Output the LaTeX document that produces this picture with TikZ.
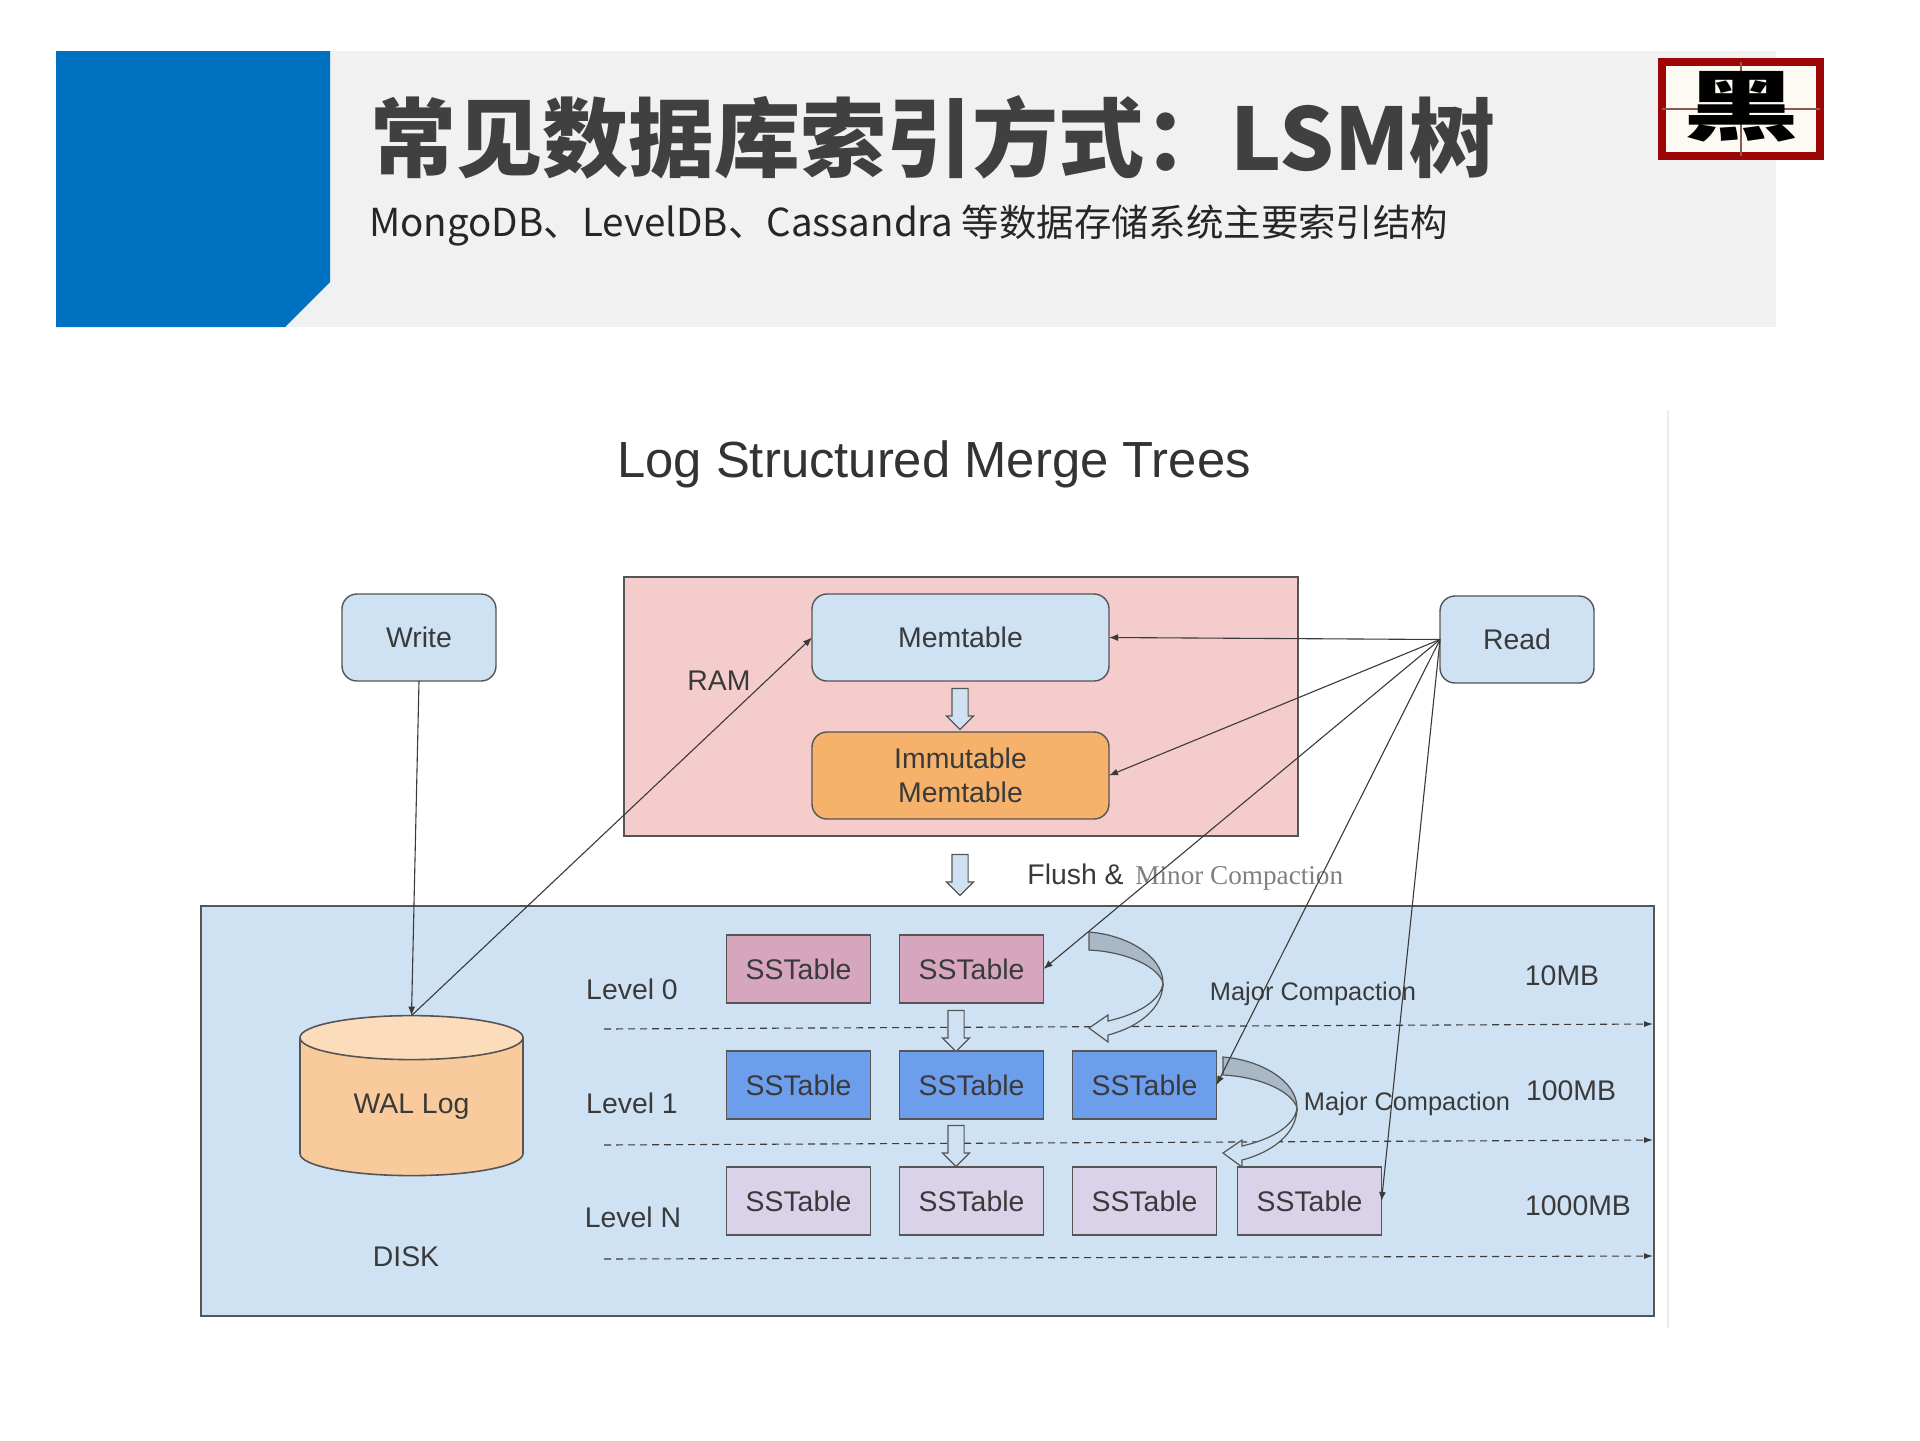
\documentclass[tikz,border=0pt]{standalone}
\usepackage{fontspec}
\usepackage{graphicx}
\setmainfont{Liberation Sans}
\newfontfamily\cjk{Noto Sans CJK SC}
\newfontfamily\minorfont{Liberation Serif}
\usepackage{xcolor}
\usetikzlibrary{arrows.meta, positioning, shapes.geometric, shapes.arrows}

\definecolor{headblue}{HTML}{0070C0}
\definecolor{headgray}{HTML}{F1F1F1}
\definecolor{headtext}{HTML}{404040}
\definecolor{stampred}{HTML}{9C0606}
\definecolor{stampbg}{HTML}{FCFAF2}
\definecolor{stampline}{HTML}{8A5A50}
\definecolor{inktext}{HTML}{3A3A3A}
\definecolor{edgegray}{HTML}{555555}
\definecolor{ramfill}{HTML}{F4CCCC}
\definecolor{memfill}{HTML}{CFE2F3}
\definecolor{immfill}{HTML}{F6B26B}
\definecolor{walfill}{HTML}{F9CB9C}
\definecolor{waltop}{HTML}{FBDDBB}
\definecolor{levelzero}{HTML}{D5A6BD}
\definecolor{levelone}{HTML}{6D9EEB}
\definecolor{leveln}{HTML}{D9D2E9}
\definecolor{curvegray}{HTML}{A9B8C6}

\tikzset{
    boxtext/.style={font=\fontsize{14.2pt}{17pt}\selectfont, text=inktext},
    roundbox/.style={boxtext, rounded corners=7.5pt, draw=edgegray, line width=0.7pt, fill=memfill, minimum height=43.5pt, outer sep=0pt, align=center},
    sstable/.style={boxtext, draw=edgegray, line width=0.7pt, minimum width=72pt, minimum height=34pt, outer sep=0pt},
    label/.style={boxtext},
    majorlabel/.style={font=\fontsize{12.7pt}{15pt}\selectfont, text=inktext},
    link/.style={draw=inktext, line width=0.55pt, -{Latex[length=4.5pt,width=3.5pt]}},
    levelline/.style={draw=inktext, line width=0.55pt, dash pattern=on 3.5pt off 2.5pt, -{Latex[length=4.5pt,width=3pt]}},
    hollowdown/.style={single arrow, draw=edgegray, fill=memfill, line width=0.6pt, rotate=-90, inner xsep=0pt, inner ysep=3.75pt,
        minimum height=20.5pt, single arrow head extend=2.75pt, single arrow tip angle=90, single arrow head indent=0pt},
    compaction/.pic={
        \filldraw[draw=edgegray, fill=curvegray, line width=0.6pt] (0,0) .. controls (38,3) and (74,24) .. (74,51)
            .. controls (70,36) and (40,20) .. (0,18) -- cycle;
        \filldraw[draw=edgegray, fill=memfill, line width=0.6pt] (74,51) .. controls (74,76) and (50,95) .. (19,103)
            -- (19,110) -- (0,96) -- (19,83) -- (19,89) .. controls (50,82) and (72,68) .. (74,51) -- cycle;
    }
}

\begin{document}
\begin{tikzpicture}[x=0.5pt, y=-0.5pt, node distance=24pt and 14.5pt]
    \useasboundingbox[fill=white] (0,0) rectangle (1920,1440);

    % header band
    \fill[headgray] (285,51) rectangle (1776,327);
    \fill[headblue] (56,51) -- (330,51) -- (330,282) -- (285,327) -- (56,327) -- cycle;
    \node[anchor=west, inner sep=0pt, text=headtext, font=\cjk\bfseries\fontsize{43pt}{50pt}\selectfont] (headline) at (370,137) {常见数据库索引方式：LSM树};
    \node[anchor=west, inner sep=0pt, text=black!85, font=\cjk\fontsize{18.7pt}{22pt}\selectfont] (subline) at (369,226) {{\fontsize{19.25pt}{22pt}\selectfont MongoDB、LevelDB、Cassandra} 等数据存储系统主要索引结构};

    % stamp
    \draw[draw=stampred, fill=stampbg, line width=4pt] (1662,62) rectangle (1820,156);
    \draw[stampline, line width=0.8pt] (1741,62) -- (1741,156) (1662,109) -- (1820,109);
    \node[inner sep=0pt, font=\cjk\bfseries\fontsize{58pt}{58pt}\selectfont] (stamp) at (1741,107) {\scalebox{1}[0.66]{黑}};

    % edge of the pasted figure
    \draw[black!8, line width=0.6pt] (1668,410) -- (1668,1328);

    \node[font=\fontsize{25.4pt}{30pt}\selectfont, text=black!80] (title) at (934,464) {Log Structured Merge Trees};

    % memory and disk areas
    \node[draw=edgegray, fill=ramfill, line width=0.7pt, minimum width=337pt, minimum height=129.5pt, outer sep=0pt] (ram) at (961,706.5) {};
    \node[draw=edgegray, fill=memfill, line width=0.9pt, minimum width=726.5pt, minimum height=205pt, outer sep=0pt] (disk) at (927.5,1111) {};

    \node[roundbox, minimum width=77pt] (write) at (419,637.5) {Write};
    \node[roundbox, minimum width=77pt] (read) at (1517,639.5) {Read};
    \node[roundbox, minimum width=148.5pt] (memtable) at (960.5,637.5) {Memtable};
    \node[roundbox, minimum width=148.5pt, fill=immfill] (immutable) at (960.5,775.5) {Immutable\\Memtable};
    \node[label] (ramlabel) at (719,681) {RAM};

    \node[hollowdown] (toimm) at (960,705) {};
    \node[hollowdown] (flush) at (960,871) {};
    \node[label, anchor=west, inner sep=0pt] (flushlabel) at (1027,874) {Flush \&};
    \node[anchor=west, inner sep=0pt, text=black!50, font=\minorfont\fontsize{13.6pt}{16pt}\selectfont] (minorlabel) at (1135,878) {Minor Compaction};

    % write-ahead log
    \node[cylinder, shape border rotate=90, draw=edgegray, line width=0.8pt, cylinder uses custom fill, cylinder body fill=walfill, cylinder end fill=waltop,
        shape aspect=0.38, minimum width=111.5pt, minimum height=80pt, outer sep=0pt, inner sep=0pt, boxtext] (wal) at (411.5,1107) {\raisebox{-2pt}{WAL Log}};
    \node[label] (disklabel) at (406,1257) {DISK};

    % levels
    \node[sstable, fill=levelzero] (sst00) at (798.5,969) {SSTable};
    \node[sstable, fill=levelzero, right=of sst00] (sst01) {SSTable};
    \node[sstable, fill=levelone, below=of sst00] (sst10) {SSTable};
    \node[sstable, fill=levelone, right=of sst10] (sst11) {SSTable};
    \node[sstable, fill=levelone, right=of sst11] (sst12) {SSTable};
    \node[sstable, fill=leveln, below=of sst10] (sst20) {SSTable};
    \node[sstable, fill=leveln, right=of sst20] (sst21) {SSTable};
    \node[sstable, fill=leveln, right=of sst21] (sst22) {SSTable};
    \node[sstable, fill=leveln, right=10.5pt of sst22] (sst23) {SSTable};

    \node[label] (level0) at (632,989) {Level 0};
    \node[label] (level1) at (632,1103) {Level 1};
    \node[label] (levelN) at (633,1217) {Level N};
    \node[label] (size0) at (1562,976) {10MB};
    \node[label] (size1) at (1571,1091) {100MB};
    \node[label] (size2) at (1578,1206) {1000MB};

    \foreach \name/\ya/\yb in {zero/1029/1024, one/1145/1140, two/1259/1256} {
        \coordinate (\name a) at (604,\ya);
        \coordinate (\name b) at (1653,\yb);
        \draw[levelline] (\name a) -- (\name b);
    }

    \node[hollowdown] (down0) at (956,1027) {};
    \node[hollowdown] (down1) at (956,1142) {};
    \pic at (1089,932) {compaction};
    \pic at (1223,1057) {compaction};
    \node[majorlabel] (major0) at (1313,994) {Major Compaction};
    \node[majorlabel] (major1) at (1407,1104) {Major Compaction};

    % write path
    \draw[link] (write.south) -- (wal.top);
    \draw[link] (wal.top) -- (memtable.west);

    % read path
    \draw[link] (read.west) -- (memtable.east);
    \draw[link] (read.west) -- (immutable.east);
    \draw[link] (read.west) -- (sst01.east);
    \draw[link] (read.west) -- (sst12.east);
    \draw[link] (read.west) -- (sst23.east);
\end{tikzpicture}
\end{document}
